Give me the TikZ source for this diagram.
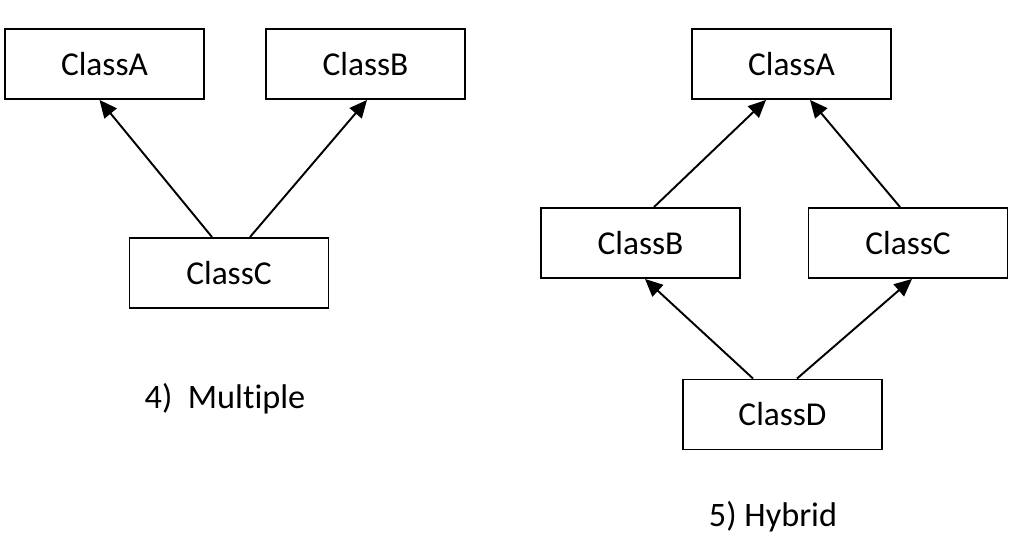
\documentclass[tikz,border=0pt]{standalone}
\usepackage{fontspec}
\setmainfont{Carlito}[Ligatures=NoCommon]
\usepackage{tikz}
\usetikzlibrary{calc, arrows.meta}

\tikzset{
  classbox/.style={draw, line width=1.1pt, minimum width=3.98cm, minimum height=1.4cm,
    inner sep=0pt, font=\fontsize{19}{23}\selectfont},
  inherit/.style={line width=1.1pt, -{Triangle[length=10pt, width=9pt]}},
  caption/.style={anchor=base, font=\fontsize{19.5}{23}\selectfont}
}

\begin{document}
\begin{tikzpicture}[x=0.02cm, y=0.02cm]
  \useasboundingbox (0,0) rectangle (1017,550);

  % Multiple inheritance
  \node[classbox] (mA) at (104.5,486) {ClassA};
  \node[classbox] (mB) at (365.5,486) {ClassB};
  \node[classbox] (mC) at (229,277) {ClassC};
  \draw[inherit] ($(mC.north)+(-17,0)$) -- ($(mA.south)+(-5,0)$);
  \draw[inherit] ($(mC.north)+(21,0)$) -- ($(mB.south)+(1.5,0)$);
  \node[caption] (mcap) at (225,141) {4)\ \ Multiple};

  % Hybrid inheritance
  \node[classbox] (hA) at (791.5,486) {ClassA};
  \node[classbox] (hB) at (640.5,307) {ClassB};
  \node[classbox] (hC) at (908,307) {ClassC};
  \node[classbox] (hD) at (782.5,135.5) {ClassD};
  \draw[inherit] ($(hB.north)+(13.5,0)$) -- ($(hA.south)+(-25.5,0)$);
  \draw[inherit] ($(hC.north)+(-8,0)$) -- ($(hA.south)+(18.5,0)$);
  \draw[inherit] ($(hD.north)+(-29.5,0)$) -- ($(hB.south)+(4.5,0)$);
  \draw[inherit] ($(hD.north)+(14.5,0)$) -- ($(hC.south)+(4,0)$);
  \node[caption] (hcap) at (773,23) {5) Hybrid};
\end{tikzpicture}
\end{document}
